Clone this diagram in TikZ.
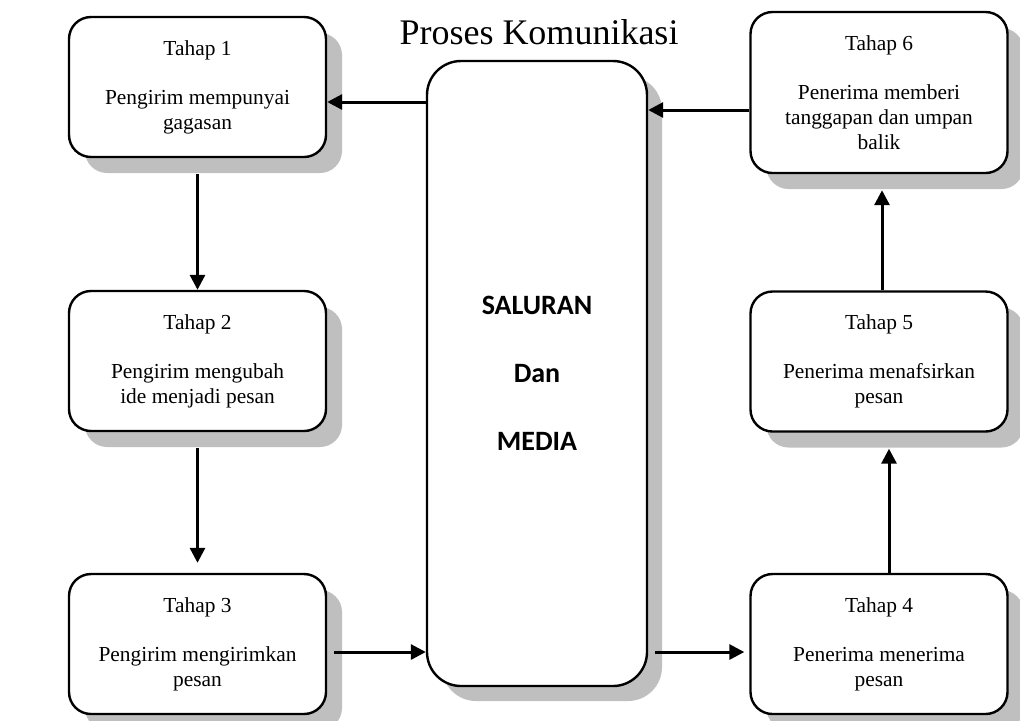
\documentclass[tikz,border=0pt]{standalone}
\usepackage{fontspec}
\setmainfont{Liberation Serif}
\newfontfamily\calibrifont{Carlito}
\usepackage{tikz}
\usetikzlibrary{arrows.meta,positioning,calc,shadows}

\begin{document}
\begin{tikzpicture}[
        x=0.5pt, y=-0.5pt,
        tahap/.style={
            draw,
            line width=1.2pt,
            rounded corners=11pt,
            minimum width=128.5pt,
            minimum height=70pt,
            align=center,
            fill=white,
            font=\fontsize{10.7}{12.5}\selectfont,
            drop shadow={shadow xshift=8pt, shadow yshift=-8pt, fill=black!25, opacity=1}
        },
        saluranbox/.style={
            draw,
            line width=1.2pt,
            rounded corners=17pt,
            minimum width=110pt,
            minimum height=312.5pt,
            align=center,
            fill=white,
            font=\calibrifont\bfseries\fontsize{14}{34}\selectfont,
            drop shadow={shadow xshift=7.5pt, shadow yshift=-7.5pt, fill=black!25, opacity=1}
        },
        flow/.style={-{Triangle[length=7.5pt, width=7.5pt]}, line width=1.5pt}
    ]
        \useasboundingbox (0,0) rectangle (1020,720);

        \node[font=\fontsize{18}{20}\selectfont] (judul) at (539,32) {Proses Komunikasi};

        \node[tahap] (tahap1) at (197.5,87) {Tahap 1\\[12pt]Pengirim mempunyai\\gagasan};
        \node[tahap] (tahap2) at (197.5,361) {Tahap 2\\[12pt]Pengirim mengubah\\ide menjadi pesan};
        \node[tahap] (tahap3) at (197.5,644) {Tahap 3\\[12pt]Pengirim mengirimkan\\pesan};

        \node[saluranbox] (saluran) at (537,373.5) {SALURAN\\Dan\\MEDIA};

        \node[tahap, minimum height=80.5pt] (tahap6) at (879,92.5) {Tahap 6\\[12pt]Penerima memberi\\tanggapan dan umpan\\balik};
        \node[tahap] (tahap5) at (879,361.5) {Tahap 5\\[12pt]Penerima menafsirkan\\pesan};
        \node[tahap] (tahap4) at (879,644) {Tahap 4\\[12pt]Penerima menerima\\pesan};

        % kiri
        \coordinate (m1) at ([yshift=-7.5pt]tahap1.east);
        \draw[flow] (saluran.west |- m1) -- (m1);
        \draw[flow] ([yshift=-8pt]tahap1.south) -- (tahap2.north);
        \draw[flow] ([yshift=-8pt]tahap2.south) -- ([yshift=5pt]tahap3.north);
        \coordinate (m3) at ([xshift=3.5pt, yshift=-4pt]tahap3.east);
        \draw[flow] (m3) -- (saluran.west |- m3);

        % kanan
        \coordinate (m4) at ([yshift=-4pt]tahap4.west);
        \draw[flow] ([xshift=3.5pt]saluran.east |- m4) -- ([xshift=-2.5pt]m4);
        \draw[flow] ([xshift=5pt]tahap4.north) -- ([xshift=5pt, yshift=-8pt]tahap5.south);
        \draw[flow] ([xshift=1.5pt]tahap5.north) -- ([xshift=1.5pt, yshift=-8pt]tahap6.south);
        \coordinate (m6) at ([yshift=-8.75pt]tahap6.west);
        \draw[flow] (m6) -- (saluran.east |- m6);
    \end{tikzpicture}
\end{document}
